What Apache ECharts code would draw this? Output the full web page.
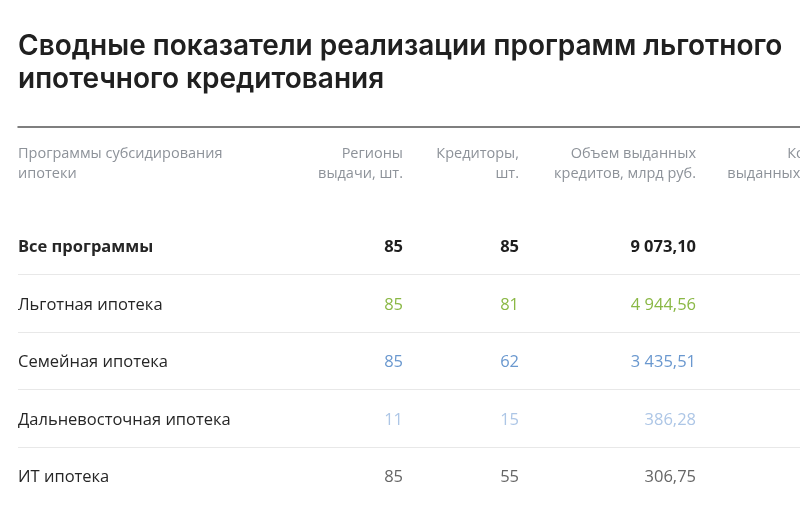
<!DOCTYPE html>
<html><head><meta charset="utf-8">
<script src="https://cdn.jsdelivr.net/npm/echarts@6/dist/echarts.min.js"></script>
<style>html,body{margin:0;padding:0;background:#fff}#c{width:800px;height:514px}</style>
</head><body><div id="c"></div>
<script>
// ---- data ----
const titleText = 'Сводные показатели реализации программ льготного\nипотечного кредитования';
const headers = ['Программы субсидирования\nипотеки', 'Регионы\nвыдачи, шт.', 'Кредиторы,\nшт.', 'Объем выданных\nкредитов, млрд руб.', 'Количество\nвыданных кредитов'];
const programs = ['Все программы', 'Льготная ипотека', 'Семейная ипотека', 'Дальневосточная ипотека', 'ИТ ипотека'];
const regions = [85, 85, 85, 11, 85];
const lenders = [85, 81, 62, 15, 55];
const volume = [9073.10, 4944.56, 3435.51, 386.28, 306.75];

// ---- layout / style ----
const colAnchor = [18, 403, 519, 696, 870];
const rowColors = ['#1e1e1e', '#8ab845', '#6a98cf', '#adc6e6', '#666666'];
const NAME_COLOR = '#262626';
const FONT = 'Open Sans, Liberation Sans, sans-serif';

function fmt(v, dec) {
  const s = v.toFixed(dec).split('.');
  const int = s[0].replace(/\B(?=(\d{3})+(?!\d))/g, ' ');
  return dec ? int + ',' + s[1] : int;
}

const valueCols = [regions, lenders, volume];
const decs = [0, 0, 2];

const nameSeries = {
  type: 'scatter', xAxisIndex: 1, yAxisIndex: 1, symbolSize: 0, silent: true,
  itemStyle: { color: NAME_COLOR, opacity: 1 },
  data: programs.map((p, i) => ({
    value: [colAnchor[0], p],
    label: { color: NAME_COLOR, fontWeight: i === 0 ? 'bold' : 'normal' }
  })),
  label: {
    show: true, position: 'right', distance: 0, align: 'left', fontSize: 16.5, fontFamily: FONT,
    color: NAME_COLOR, offset: [0, 2],
    formatter: p => programs[p.dataIndex]
  }
};

const bodySeries = valueCols.map((arr, c) => ({
  type: 'scatter', xAxisIndex: 1, yAxisIndex: 1, symbolSize: 0, silent: true,
  itemStyle: { opacity: 1 },
  data: arr.map((v, i) => ({
    value: [colAnchor[c + 1], programs[i]],
    label: { color: rowColors[i], fontWeight: i === 0 ? 'bold' : 'normal' }
  })),
  label: {
    show: true, position: 'left', distance: 0, align: 'right', fontSize: 16.5, fontFamily: FONT,
    offset: [0, 2],
    formatter: p => fmt(arr[p.dataIndex], decs[c])
  }
}));

const headerSeries = headers.map((h, c) => ({
  type: 'scatter', xAxisIndex: 0, yAxisIndex: 0, symbolSize: 0, silent: true, clip: false,
  itemStyle: { opacity: 1 },
  data: [[colAnchor[c], 'h']],
  label: {
    show: true, position: c === 0 ? 'right' : 'left', distance: 0, align: c === 0 ? 'left' : 'right',
    fontSize: 14.5, lineHeight: 20, color: '#8d9299', fontFamily: FONT, offset: [0, 1],
    formatter: () => h
  }
}));

const chart = echarts.init(document.getElementById('c'), null, { renderer: 'canvas' });
chart.setOption({
  backgroundColor: '#ffffff',
  animation: false,
  title: {
    text: titleText, left: 13, top: 25,
    textStyle: { fontSize: 28, fontWeight: 600, lineHeight: 33, color: '#202020', fontFamily: 'Inter, sans-serif' }
  },
  grid: [
    { left: 18, right: 0, top: 127, height: 72 },
    { left: 18, right: 0, top: 217, height: 287.5 }
  ],
  xAxis: [
    { gridIndex: 0, type: 'value', min: 18, max: 800, position: 'top',
      axisLine: { show: true, lineStyle: { color: '#555555', width: 1.5 } },
      axisTick: { show: false }, axisLabel: { show: false }, splitLine: { show: false } },
    { gridIndex: 1, type: 'value', min: 18, max: 800, show: false }
  ],
  yAxis: [
    { gridIndex: 0, type: 'category', data: ['h'], show: false },
    { gridIndex: 1, type: 'category', inverse: true, data: programs,
      axisLine: { show: false }, axisTick: { show: false }, axisLabel: { show: false },
      splitLine: { show: true, showMinLine: false, showMaxLine: false, lineStyle: { color: '#e8e8e8', width: 1 } }
    }
  ],
  series: headerSeries.concat([nameSeries], bodySeries)
});
</script></body></html>
